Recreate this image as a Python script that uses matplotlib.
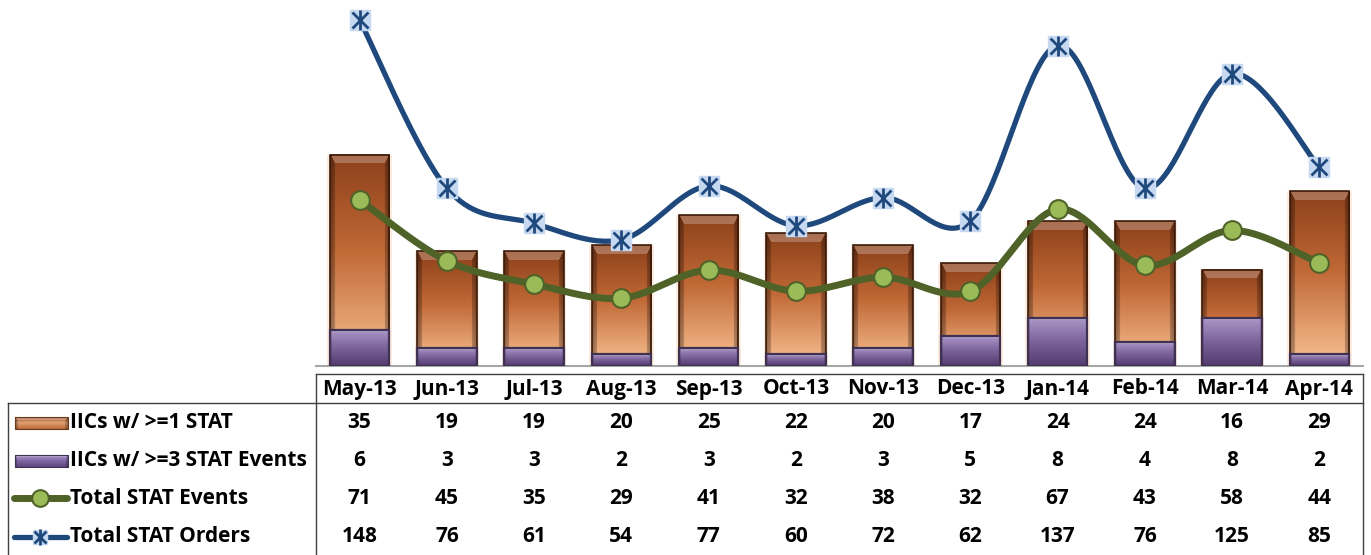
import numpy as np
import matplotlib
matplotlib.use("Agg")
import matplotlib.pyplot as plt
import matplotlib.transforms as mtransforms
from matplotlib.patches import Rectangle

months = ["May-13", "Jun-13", "Jul-13", "Aug-13", "Sep-13", "Oct-13",
          "Nov-13", "Dec-13", "Jan-14", "Feb-14", "Mar-14", "Apr-14"]
iics_1 = [35, 19, 19, 20, 25, 22, 20, 17, 24, 24, 16, 29]
iics_3 = [6, 3, 3, 2, 3, 2, 3, 5, 8, 4, 8, 2]
events = [71, 45, 35, 29, 41, 32, 38, 32, 67, 43, 58, 44]
orders = [148, 76, 61, 54, 77, 60, 72, 62, 137, 76, 125, 85]
row_labels = ["IICs w/ >=1 STAT", "IICs w/ >=3 STAT Events",
              "Total STAT Events", "Total STAT Orders"]

FONT = ["Open Sans", "DejaVu Sans"]
FS = 15

W, H = 1371, 555
fig = plt.figure(figsize=(W / 100, H / 100), dpi=100)
ax = fig.add_axes([316 / W, 1 - 366 / H, 1047 / W, 366 / H])
ax.set_xlim(-0.5, len(months) - 0.5)
ax.set_ylim(0, 60.7)
ax2 = ax.twinx()
ax2.set_ylim(0, 156.5)
for a in (ax, ax2):
    a.set_xticks([])
    a.set_yticks([])
    for s in a.spines.values():
        s.set_visible(False)


def smooth(vals, n=40):
    # Excel-style smoothed line (cubic bezier, catmull-rom control points)
    P = np.column_stack([np.arange(len(vals), dtype=float), np.asarray(vals, float)])
    Pe = np.vstack([P[0], P, P[-1]])
    t = np.linspace(0, 1, n)[:, None]
    out = []
    for i in range(len(P) - 1):
        p0, p1, p2, p3 = Pe[i], Pe[i + 1], Pe[i + 2], Pe[i + 3]
        c1 = p1 + (p2 - p0) / 6
        c2 = p2 - (p3 - p1) / 6
        seg = (1 - t) ** 3 * p1 + 3 * (1 - t) ** 2 * t * c1 + 3 * (1 - t) * t ** 2 * c2 + t ** 3 * p2
        out.append(seg if i == 0 else seg[1:])
    s = np.vstack(out)
    return s[:, 0], s[:, 1]


def bar_image(h, w, top, mid, bot, bevel=8, side_w=5, light=0.25, dark=0.72):
    h = max(int(round(h)), 2)
    w = max(int(round(w)), 2)
    top, mid, bot = [np.array(c, float) / 255 for c in (top, mid, bot)]
    t = np.linspace(0, 1, h)[:, None, None]
    col = np.where(t < 0.45, top + (mid - top) * (t / 0.45),
                   mid + (bot - mid) * ((t - 0.45) / 0.55))
    img = np.broadcast_to(col, (h, w, 3)).copy()
    yy, xx = np.mgrid[0:h, 0:w]
    d_side = np.minimum(xx, w - 1 - xx)
    # top facet is a trapezoid of height `bevel`, side facets are `side_w` wide
    topf = (yy < bevel) & (d_side * bevel >= yy * side_w)
    side = (d_side < side_w) & ~topf
    fade = np.clip(d_side / max(side_w, 1), 0, 1)
    img[side] *= (dark + (1 - dark) * 0.5 * fade[side])[:, None]
    img[topf] = img[topf] + (1 - img[topf]) * light
    return img


def gradient_bars(axis, values, width, colors, edge, lw, z, **kw):
    rects = axis.bar(range(len(values)), values, width=width, facecolor="none",
                     edgecolor=edge, linewidth=lw, zorder=z + 1)
    for r in rects:
        x0, y0 = r.get_x(), r.get_y()
        x1, y1 = x0 + r.get_width(), y0 + r.get_height()
        (px0, py0), (px1, py1) = axis.transData.transform([(x0, y0), (x1, y1)])
        img = bar_image(abs(py1 - py0), abs(px1 - px0), *colors, **kw)
        axis.imshow(img, extent=(x0, x1, y0, y1), aspect="auto", origin="upper",
                    interpolation="bilinear", zorder=z)
    return rects


x = np.arange(len(months))

# soft glow behind orange bars
ax.bar(x, iics_1, width=0.74, color="#FBE0CC", alpha=0.6, zorder=1, linewidth=0)
gradient_bars(ax, iics_1, 0.68, [(140, 64, 26), (192, 104, 54), (250, 194, 148)],
              "#3A1A08", 1.2, 2, bevel=9, side_w=5, light=0.25, dark=0.62)
gradient_bars(ax, iics_3, 0.68, [(172, 152, 200), (128, 104, 160), (84, 60, 112)],
              "#3F3151", 1.6, 4, bevel=3, side_w=2, light=0.15, dark=0.85)
ax.axhline(0, color="#A6A6A6", lw=1.5, zorder=1.5, clip_on=False)
ax.set_xlim(-0.5, len(months) - 0.5)
ax.set_ylim(0, 60.7)

# lines on secondary axis
sx, sy = smooth(events)
ax2.plot(sx, sy, color="#4F6228", lw=5, solid_capstyle="round", zorder=3)
ax2.plot(x, events, "o", ms=13.5, mfc="#9BBB59", mec="#4F6228", mew=1.5, zorder=4)
sx, sy = smooth(orders)
ax2.plot(sx, sy, color="#1F497D", lw=3.8, solid_capstyle="round", zorder=3)
ax2.plot(x, orders, "s", ms=14, mfc="#C6D9F1", mec="#C6D9F1", zorder=4)
ax2.plot(x, orders, "x", ms=12, mec="#1F497D", mew=2, zorder=5)
ax2.plot(x, orders, "|", ms=15, mec="#1F497D", mew=2, zorder=5)
ax2.set_ylim(0, 156.5)
ax2.set_xlim(-0.5, len(months) - 0.5)

# data table
trans = mtransforms.blended_transform_factory(ax.transData, fig.transFigure)
row_y = [423, 461, 498, 537]
series = [iics_1, iics_3, events, orders]
for i, m in enumerate(months):
    fig.text(i, 1 - 389 / H, m, transform=trans, ha="center", va="center",
             fontsize=FS, fontweight="bold", family=FONT)
    for yy, vals in zip(row_y, series):
        fig.text(i, 1 - yy / H, str(vals[i]), transform=trans, ha="center", va="center",
                 fontsize=FS, fontweight="bold", family=FONT)
for yy, lab in zip(row_y, row_labels):
    fig.text(70 / W, 1 - yy / H, lab, ha="left", va="center",
             fontsize=FS, fontweight="bold", family=FONT)

# table grid and legend keys, in pixel space
kx = fig.add_axes([0, 0, 1, 1])
kx.set_xlim(0, W)
kx.set_ylim(H, 0)
kx.axis("off")
lc = "#404040"
kx.plot([316, 1363], [374, 374], color=lc, lw=1)
kx.plot([8, 1363], [403, 403], color=lc, lw=1)
kx.plot([316, 316], [374, H], color=lc, lw=1)
kx.plot([1363, 1363], [374, H], color=lc, lw=1)
kx.plot([8, 8], [403, H], color=lc, lw=1)

img = bar_image(12, 53, (150, 75, 35), (225, 160, 115), (190, 110, 60),
                bevel=3, side_w=3, light=0.3)
kx.imshow(img, extent=(15, 68, 429, 417), aspect="auto", interpolation="bilinear")
kx.add_patch(Rectangle((15, 417), 53, 12, fill=False, ec="#6B3A1A", lw=0.8))
img = bar_image(12, 53, (175, 155, 205), (130, 105, 165), (95, 70, 125),
                bevel=2, side_w=2, light=0.15)
kx.imshow(img, extent=(15, 68, 467, 455), aspect="auto", interpolation="bilinear")
kx.add_patch(Rectangle((15, 455), 53, 12, fill=False, ec="#3F3151", lw=0.8))
kx.plot([14, 67], [498, 498], color="#4F6228", lw=5, solid_capstyle="round")
kx.plot([40], [498], "o", ms=12, mfc="#9BBB59", mec="#4F6228", mew=1.5)
kx.plot([14, 67], [537, 537], color="#1F497D", lw=3.8, solid_capstyle="round")
kx.plot([40], [537], "s", ms=10, mfc="#C6D9F1", mec="#C6D9F1")
kx.plot([40], [537], "x", ms=9, mec="#1F497D", mew=2)
kx.plot([40], [537], "|", ms=11, mec="#1F497D", mew=2)
kx.set_xlim(0, W)
kx.set_ylim(H, 0)

fig.savefig("out.png", dpi=100)
